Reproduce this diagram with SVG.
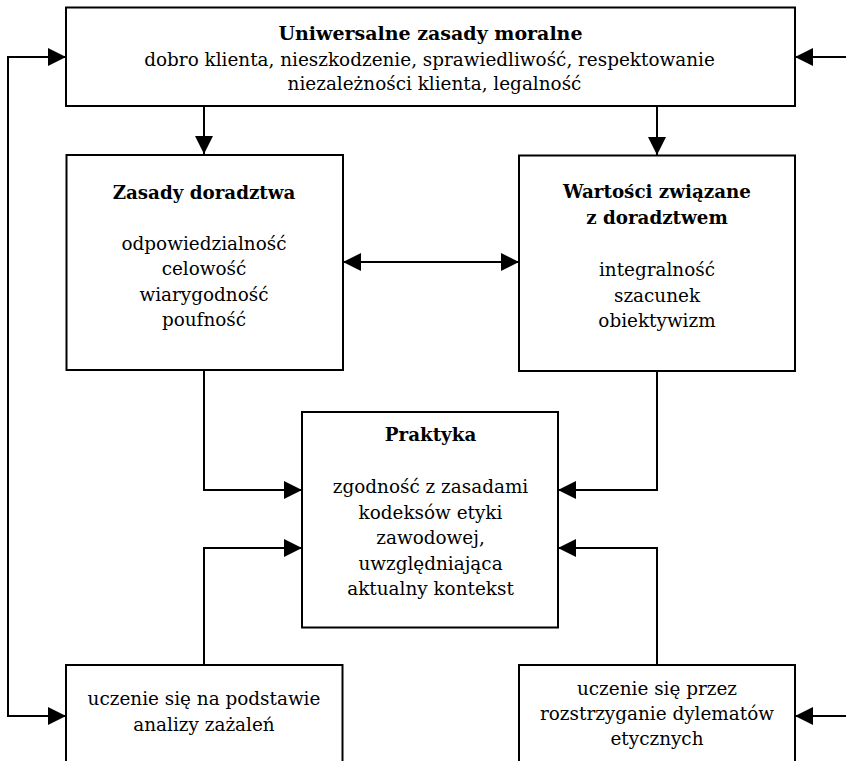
<svg xmlns="http://www.w3.org/2000/svg" width="846" height="761" viewBox="0 0 846 761">
<defs>
<style>
.box{fill:#fff;stroke:#000;stroke-width:2}
.c{fill:none;stroke:#000;stroke-width:2}
text{font-family:"DejaVu Serif","Liberation Serif",serif;fill:#000;text-anchor:middle}
.t{font-size:18.4px}
.b{font-size:18.3px;font-weight:bold}
.bt{font-size:19px;font-weight:bold}
</style>
<marker id="ah" markerUnits="userSpaceOnUse" markerWidth="18" markerHeight="18" viewBox="0 0 18 18" refX="18" refY="9" orient="auto-start-reverse">
<path d="M0,0 L18,9 L0,18 z" fill="#000"/>
</marker>
</defs>
<rect width="846" height="761" fill="#fff"/>
<g id="connectors">
<path class="c" d="M204,106 V154" marker-end="url(#ah)"/>
<path class="c" d="M657,106 V155" marker-end="url(#ah)"/>
<path class="c" d="M343,262 H519" marker-start="url(#ah)" marker-end="url(#ah)"/>
<path class="c" d="M204,370 V490 H302" marker-end="url(#ah)"/>
<path class="c" d="M657,371 V490 H558" marker-end="url(#ah)"/>
<path class="c" d="M204,665 V548 H302" marker-end="url(#ah)"/>
<path class="c" d="M657,665 V548 H558" marker-end="url(#ah)"/>
<path class="c" d="M66,57 H8 V716 H66" marker-start="url(#ah)" marker-end="url(#ah)"/>
<path class="c" d="M846,57 H795" marker-end="url(#ah)"/>
<path class="c" d="M846,716 H795" marker-end="url(#ah)"/>
</g>
<g id="moral">
<rect class="box" x="66" y="7.5" width="729" height="98.5"/>
<text class="bt" x="430.5" y="40">Uniwersalne zasady moralne</text>
<text class="t" x="429.5" y="66">dobro klienta, nieszkodzenie, sprawiedliwość, respektowanie</text>
<text class="t" x="434.5" y="90">niezależności klienta, legalność</text>
</g>
<g id="zasady">
<rect class="box" x="66.5" y="155" width="276.5" height="215"/>
<text class="b" x="204" y="198.5">Zasady doradztwa</text>
<text class="t" x="204" y="249.5">odpowiedzialność</text>
<text class="t" x="204" y="275">celowość</text>
<text class="t" x="204" y="300.5">wiarygodność</text>
<text class="t" x="204" y="326">poufność</text>
</g>
<g id="wartosci">
<rect class="box" x="519" y="155.5" width="276" height="215.5"/>
<text class="b" x="657" y="198">Wartości związane</text>
<text class="b" x="657" y="224">z doradztwem</text>
<text class="t" x="657" y="276">integralność</text>
<text class="t" x="657" y="301.5">szacunek</text>
<text class="t" x="657" y="326.5">obiektywizm</text>
</g>
<g id="praktyka">
<rect class="box" x="302" y="412" width="256" height="215.5"/>
<text class="b" x="430.5" y="441">Praktyka</text>
<text class="t" x="430.5" y="493">zgodność z zasadami</text>
<text class="t" x="430.5" y="518.5">kodeksów etyki</text>
<text class="t" x="430.5" y="543.5">zawodowej,</text>
<text class="t" x="430.5" y="569.5">uwzględniająca</text>
<text class="t" x="430.5" y="595">aktualny kontekst</text>
</g>
<g id="skargi">
<rect class="box" x="66" y="665" width="276.5" height="120"/>
<text class="t" x="204" y="705">uczenie się na podstawie</text>
<text class="t" x="204" y="730.5">analizy zażaleń</text>
</g>
<g id="dylematy">
<rect class="box" x="519" y="665" width="276" height="120"/>
<text class="t" x="657" y="695">uczenie się przez</text>
<text class="t" x="657" y="720">rozstrzyganie dylematów</text>
<text class="t" x="657" y="745">etycznych</text>
</g>
</svg>
